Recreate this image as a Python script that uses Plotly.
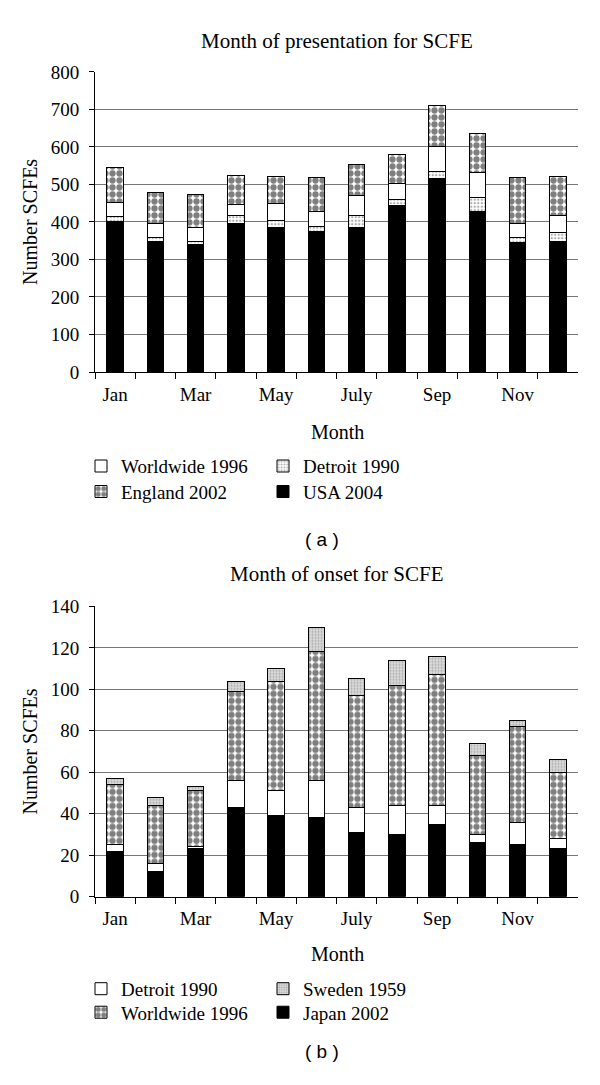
import plotly.graph_objects as go

months = ["Jan", "Feb", "Mar", "Apr", "May", "June", "July", "Aug", "Sep", "Oct", "Nov", "Dec"]
tick_labels = ["Jan", "", "Mar", "", "May", "", "July", "", "Sep", "", "Nov", ""]

# (a) Month of presentation for SCFE
usa_2004 = [400, 347, 341, 397, 385, 375, 386, 443, 516, 427, 344, 349]
detroit_1990_a = [15, 12, 8, 19, 19, 14, 30, 17, 19, 38, 15, 23]
worldwide_1996_a = [38, 37, 36, 30, 46, 38, 54, 43, 67, 67, 38, 44]
england_2002 = [93, 82, 88, 79, 72, 92, 82, 77, 108, 105, 122, 105]

# (b) Month of onset for SCFE
japan_2002 = [22, 12, 23, 43, 39, 38, 31, 30, 35, 26, 25, 23]
detroit_1990_b = [3, 4, 1, 13, 12, 18, 12, 14, 9, 4, 11, 5]
worldwide_1996_b = [29, 28, 27, 43, 53, 62, 54, 58, 63, 38, 46, 32]
sweden_1959 = [3, 4, 2, 5, 6, 12, 8, 12, 9, 6, 3, 6]

W, H = 600, 1085
OFF = 8  # page body margin
SERIF = "Liberation Serif"
FS = 19
FT = 21
FA = 20

def px_x(p):
    return (p - OFF) / W

def px_y(p):
    return 1 - (p - OFF) / H

black = dict(color="black", line=dict(color="black", width=1))
white = dict(color="white", line=dict(color="black", width=1))
checker = dict(color="white", line=dict(color="black", width=1),
               pattern=dict(shape=".", fgcolor="black", bgcolor="white", size=7, solidity=0.64))
dots_a = dict(color="white", line=dict(color="black", width=1),
              pattern=dict(shape=".", fgcolor="#555555", bgcolor="white", size=3.5, solidity=0.35))
dots_b = dict(color="white", line=dict(color="black", width=1),
              pattern=dict(shape=".", fgcolor="#777777", bgcolor="#dddddd", size=3, solidity=0.4))

fig = go.Figure()

# top chart (stack bottom-up)
fig.add_bar(x=months, y=usa_2004, name="USA 2004", marker=black,
            xaxis="x", yaxis="y", legend="legend2", legendrank=2)
fig.add_bar(x=months, y=detroit_1990_a, name="Detroit 1990", marker=dots_a,
            xaxis="x", yaxis="y", legend="legend", legendrank=2)
fig.add_bar(x=months, y=worldwide_1996_a, name="Worldwide 1996", marker=white,
            xaxis="x", yaxis="y", legend="legend", legendrank=1)
fig.add_bar(x=months, y=england_2002, name="England 2002", marker=checker,
            xaxis="x", yaxis="y", legend="legend2", legendrank=1)

# bottom chart
fig.add_bar(x=months, y=japan_2002, name="Japan 2002", marker=black,
            xaxis="x2", yaxis="y2", legend="legend4", legendrank=2)
fig.add_bar(x=months, y=detroit_1990_b, name="Detroit 1990", marker=white,
            xaxis="x2", yaxis="y2", legend="legend3", legendrank=1)
fig.add_bar(x=months, y=worldwide_1996_b, name="Worldwide 1996", marker=checker,
            xaxis="x2", yaxis="y2", legend="legend4", legendrank=1)
fig.add_bar(x=months, y=sweden_1959, name="Sweden 1959", marker=dots_b,
            xaxis="x2", yaxis="y2", legend="legend3", legendrank=2)

xdom = [px_x(95), px_x(578)]
xcommon = dict(type="category", tickvals=months, ticktext=tick_labels,
               tickson="boundaries", ticks="outside", ticklen=6, tickcolor="black",
               tickangle=0,
               showline=True, linecolor="black", linewidth=1, showgrid=False,
               tickfont=dict(family=SERIF, size=FS, color="black"),
               ticklabelstandoff=5, domain=xdom, fixedrange=True)
ycommon = dict(ticks="outside", ticklen=5, tickcolor="black", showline=True,
               linecolor="black", linewidth=1, showgrid=True, gridcolor="#777777",
               gridwidth=1.3, zeroline=False,
               tickfont=dict(family=SERIF, size=FS, color="black"),
               ticklabelstandoff=6, fixedrange=True)

fig.update_layout(
    width=W, height=H,
    margin=dict(l=0, r=0, t=0, b=0),
    paper_bgcolor="white", plot_bgcolor="white",
    barmode="stack", bargap=0.585,
    showlegend=True,
    xaxis=dict(xcommon, anchor="y"),
    yaxis=dict(ycommon, domain=[px_y(369), px_y(63)], range=[0, 800], dtick=100, anchor="x"),
    xaxis2=dict(xcommon, anchor="y2"),
    yaxis2=dict(ycommon, domain=[px_y(904), px_y(608)], range=[0, 140], dtick=20, anchor="x2"),
)

legend_common = dict(orientation="h", xanchor="left", yanchor="middle",
                     entrywidth=137, entrywidthmode="pixels",
                     font=dict(family=SERIF, size=FS, color="black"),
                     bgcolor="rgba(0,0,0,0)", traceorder="normal")
fig.update_layout(
    legend=dict(legend_common, x=px_x(81), y=px_y(465)),
    legend2=dict(legend_common, x=px_x(81), y=px_y(491)),
    legend3=dict(legend_common, x=px_x(81), y=px_y(998)),
    legend4=dict(legend_common, x=px_x(81), y=px_y(1022)),
)

def ann(text, x, y, size=FS, family=SERIF, angle=0):
    return dict(text=text, x=px_x(x), y=px_y(y), xref="paper", yref="paper",
                showarrow=False, xanchor="center", yanchor="middle",
                textangle=angle, font=dict(family=family, size=size, color="black"))

fig.update_layout(annotations=[
    ann("Month of presentation for SCFE", 337, 31, size=FT),
    ann("Month", 337, 430, size=FA),
    ann("Number SCFEs", 30, 216, size=FA, angle=-90),
    ann("( a )", 322, 540, family="Liberation Sans"),
    ann("Month of onset for SCFE", 337, 575, size=FT),
    ann("Month", 337, 962, size=FA),
    ann("Number SCFEs", 30, 756, size=FA, angle=-90),
    ann("( b )", 322, 1062, family="Liberation Sans"),
])

fig.write_html("out.html")
